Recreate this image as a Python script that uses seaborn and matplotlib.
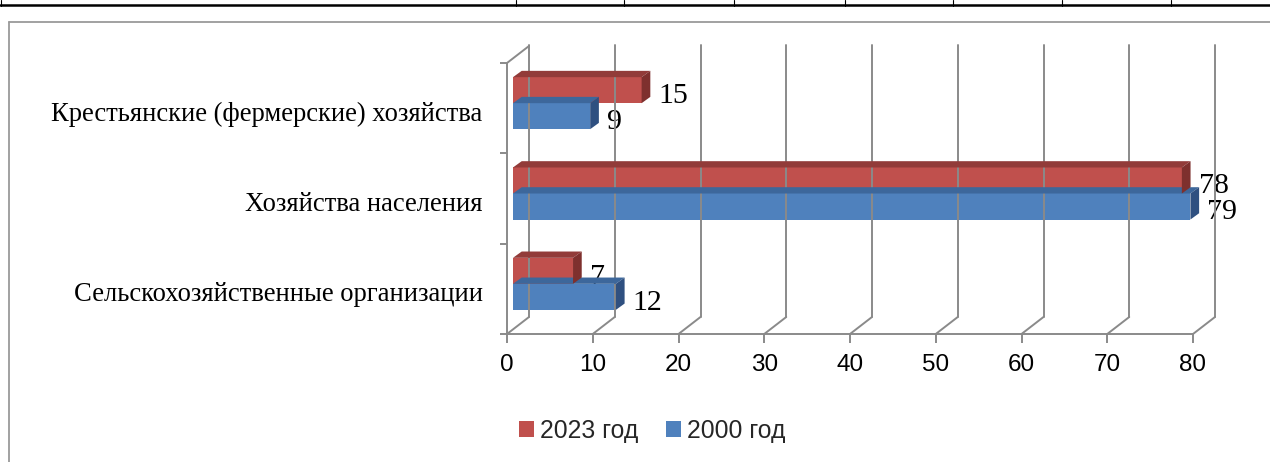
import matplotlib
matplotlib.use("Agg")
import numpy as np
import pandas as pd
import seaborn as sns
import matplotlib.pyplot as plt
from matplotlib.lines import Line2D
from matplotlib.patches import Polygon, Rectangle
from matplotlib.colors import to_rgba
from matplotlib.transforms import IdentityTransform, ScaledTranslation

# ---- data -------------------------------------------------------------
categories = [
    "Крестьянские (фермерские) хозяйства",
    "Хозяйства населения",
    "Сельскохозяйственные организации",
]
years = ["2023 год", "2000 год"]
values_2023 = [15, 78, 7]
values_2000 = [9, 79, 12]
x_ticks = [0, 10, 20, 30, 40, 50, 60, 70, 80]

# ---- style ------------------------------------------------------------
sns.set_theme(style="white")
plt.rcParams["font.family"] = ["Liberation Sans", "DejaVu Sans"]

W, H = 1270, 462
fig = plt.figure(figsize=(W / 100, H / 100), dpi=100)
fig.patch.set_facecolor("white")

front_colors = {"2023 год": "#C0504D", "2000 год": "#4F81BD"}
top_colors = {"2023 год": "#923B39", "2000 год": "#3D679B"}
side_colors = {"2023 год": "#7E302E", "2000 год": "#2F5080"}
axis_gray = "#8A8A8A"
serif = ["Liberation Serif", "DejaVu Serif"]

ax = fig.add_axes([507 / W, 1 - 334 / H, 686 / W, 271 / H])
ax.set_facecolor("none")

df = pd.DataFrame({
    "category": categories * 2,
    "year": [years[0]] * len(categories) + [years[1]] * len(categories),
    "value": values_2023 + values_2000,
})

sns.barplot(
    data=df, x="value", y="category", hue="year",
    order=categories, hue_order=years, palette=front_colors,
    orient="h", width=0.576, saturation=1, legend=False,
    edgecolor="none", linewidth=0, ax=ax,
)
ax.set_xlim(0, 80)
ax.set_ylim(len(categories) - 0.5, -0.5)
ax.set_xlabel("")
ax.set_ylabel("")

# depth of the wall/floor and of the bars, in pixels
WALL_DX, WALL_DY = 22, 17
BAR_SHIFT_X, BAR_SHIFT_Y = 6, 5
BAR_DX, BAR_DY = 8.7, 6.3

shift = ScaledTranslation(BAR_SHIFT_X / 100, BAR_SHIFT_Y / 100, fig.dpi_scale_trans)
bar_trans = ax.transData + shift

# ---- bars with 3D top and side faces ---------------------------------
for patch in list(ax.patches):
    fc = patch.get_facecolor()
    year = years[0] if np.allclose(fc, to_rgba(front_colors[years[0]]), atol=0.02) else years[1]
    z = 3 if year == years[0] else 2
    patch.set_transform(bar_trans)
    patch.set_zorder(z)
    patch.set_clip_on(False)
    x0, y0 = patch.get_x(), patch.get_y()
    x1, y1 = x0 + patch.get_width(), y0 + patch.get_height()
    (xl, ya), (xr, yb) = bar_trans.transform([[x0, y0], [x1, y1]])
    ylo, yhi = min(ya, yb), max(ya, yb)
    top = Polygon([[xl, yhi], [xr, yhi], [xr + BAR_DX, yhi + BAR_DY], [xl + BAR_DX, yhi + BAR_DY]],
                  closed=True, transform=IdentityTransform(), facecolor=top_colors[year],
                  edgecolor="none", zorder=z + 0.1, clip_on=False)
    side = Polygon([[xr, ylo], [xr, yhi], [xr + BAR_DX, yhi + BAR_DY], [xr + BAR_DX, ylo + BAR_DY]],
                   closed=True, transform=IdentityTransform(), facecolor=side_colors[year],
                   edgecolor="none", zorder=z + 0.1, clip_on=False)
    fig.add_artist(top)
    fig.add_artist(side)

# ---- back wall gridlines and floor lines ------------------------------
y_front_bottom = ax.transData.transform((0, len(categories) - 0.5))[1]
y_front_top = ax.transData.transform((0, -0.5))[1]
for t in x_ticks:
    xf = ax.transData.transform((t, 0))[0]
    fig.add_artist(Line2D([xf + WALL_DX, xf + WALL_DX],
                          [y_front_bottom + WALL_DY, y_front_top + WALL_DY + 1],
                          transform=IdentityTransform(), color=axis_gray, lw=1.4, zorder=1))
    fig.add_artist(Line2D([xf, xf + WALL_DX], [y_front_bottom, y_front_bottom + WALL_DY],
                          transform=IdentityTransform(), color=axis_gray, lw=1.4, zorder=1))
# top edge of the side wall
x_zero = ax.transData.transform((0, 0))[0]
fig.add_artist(Line2D([x_zero, x_zero + WALL_DX], [y_front_top, y_front_top + WALL_DY],
                      transform=IdentityTransform(), color=axis_gray, lw=1.4, zorder=1))

# ---- axes styling -----------------------------------------------------
for name in ("top", "right"):
    ax.spines[name].set_visible(False)
for name in ("left", "bottom"):
    ax.spines[name].set_color(axis_gray)
    ax.spines[name].set_linewidth(1.4)
    ax.spines[name].set_zorder(1)

ax.set_xticks(x_ticks)
ax.set_xticklabels([str(t) for t in x_ticks])
ax.tick_params(axis="x", which="major", bottom=True, length=6.5, width=1.4,
               color=axis_gray, direction="out", pad=8, labelsize=17.5, labelcolor="black")
ax.set_yticks(range(len(categories)))
ax.set_yticklabels([])
ax.set_yticks([i - 0.5 for i in range(len(categories) + 1)], minor=True)
ax.tick_params(axis="y", which="major", left=False, length=0)
ax.tick_params(axis="y", which="minor", left=True, length=5, width=1.4,
               color=axis_gray, direction="out")

# category names on the side wall
for i, name in enumerate(categories):
    ax.annotate(name, xy=(0, i), xytext=(-17.5, -2.0), textcoords="offset points",
                ha="right", va="center_baseline", fontsize=19.2, fontfamily=serif,
                color="black", annotation_clip=False)

# ---- value labels -----------------------------------------------------
n_hue = len(years)
bar_h = 0.576 / n_hue
for h, (year, vals) in enumerate(zip(years, [values_2023, values_2000])):
    for i, v in enumerate(vals):
        yc = i - 0.576 / 2 + bar_h * (h + 0.5)
        ax.annotate(str(v), xy=(v, yc), xytext=(16.5, 1.5), textcoords="offset points",
                    ha="left", va="center_baseline", fontsize=21.5, fontfamily=serif,
                    color="black", zorder=6, annotation_clip=False)

# ---- legend -----------------------------------------------------------
handles = [Rectangle((0, 0), 1, 1, facecolor=front_colors[y], edgecolor="none") for y in years]
fig.legend(handles, years, loc="center", bbox_to_anchor=(652 / W, 1 - 431 / H),
           ncol=2, frameon=False, fontsize=17.8, handlelength=0.61, handleheight=0.61,
           handletextpad=0.25, columnspacing=1.1, borderpad=0)

# ---- surrounding page elements -----------------------------------------
fig.add_artist(Line2D([0, 1], [1 - 5 / H, 1 - 5 / H], transform=fig.transFigure,
                      color="black", lw=1.8))
for xv in [1, 516, 624, 734, 845, 953, 1062, 1171]:
    fig.add_artist(Line2D([xv / W, xv / W], [1, 1 - 6 / H], transform=fig.transFigure,
                          color="black", lw=0.8))
fig.add_artist(Line2D([9 / W, 1], [1 - 22 / H, 1 - 22 / H], transform=fig.transFigure,
                      color="#9A9A9A", lw=1.3))
fig.add_artist(Line2D([9 / W, 9 / W], [0, 1 - 22 / H], transform=fig.transFigure,
                      color="#9A9A9A", lw=1.3))

fig.savefig("out.png", dpi=100, facecolor="white")
